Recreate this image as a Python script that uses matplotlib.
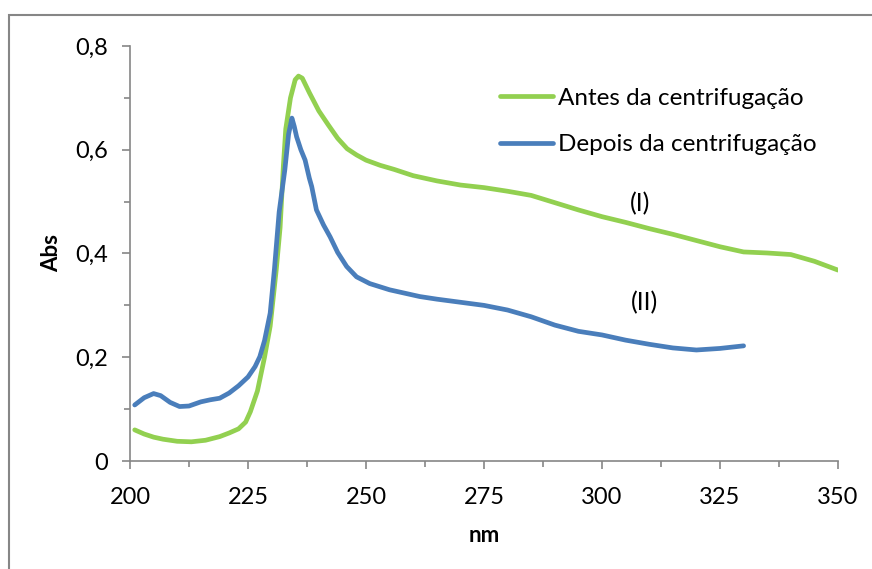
import matplotlib.pyplot as plt
from matplotlib.patches import Rectangle
from matplotlib.ticker import MultipleLocator, FuncFormatter

plt.rcParams['font.family'] = ['Lato', 'DejaVu Sans']

# Antes da centrifugação (I)
nm_antes = [201, 203, 205, 207, 210, 213, 216, 219, 221, 223, 224.5, 225.5, 227,
            228.5, 229.7, 231, 231.8, 232.5, 233, 234, 235, 235.7, 236.5, 238, 240,
            242, 244, 246, 248, 250, 253, 256, 260, 265, 270, 275, 280, 285, 290,
            295, 300, 305, 310, 315, 320, 325, 330, 335, 340, 345, 350]
abs_antes = [0.060, 0.052, 0.046, 0.042, 0.038, 0.037, 0.040, 0.047, 0.054, 0.062,
             0.075, 0.095, 0.135, 0.200, 0.260, 0.370, 0.450, 0.570, 0.640, 0.700,
             0.735, 0.742, 0.738, 0.710, 0.675, 0.648, 0.622, 0.602, 0.590, 0.580,
             0.570, 0.562, 0.550, 0.540, 0.532, 0.527, 0.520, 0.512, 0.498, 0.484,
             0.471, 0.460, 0.448, 0.437, 0.425, 0.413, 0.403, 0.401, 0.398, 0.385,
             0.368]

# Depois da centrifugação (II)
nm_depois = [201, 203, 205, 206.5, 208.5, 210.5, 212.5, 215, 217, 219, 221, 223, 225,
             226.5, 227.5, 228.5, 229.7, 230.6, 231.6, 232.8, 233.6, 234.3, 234.8,
             235.3, 236.2, 237.1, 238, 238.5, 239.5, 241, 242.4, 244, 245.9, 248,
             250.8, 255, 261.4, 265, 270, 275, 280, 285, 290, 295, 300, 305, 310,
             315, 320, 325, 330]
abs_depois = [0.108, 0.122, 0.130, 0.126, 0.113, 0.105, 0.106, 0.114, 0.118, 0.121,
              0.131, 0.145, 0.162, 0.182, 0.201, 0.232, 0.285, 0.370, 0.480, 0.561,
              0.630, 0.661, 0.645, 0.625, 0.600, 0.580, 0.545, 0.529, 0.484, 0.455,
              0.432, 0.402, 0.375, 0.355, 0.342, 0.330, 0.317, 0.312, 0.306, 0.300,
              0.291, 0.278, 0.262, 0.250, 0.243, 0.233, 0.225, 0.218, 0.214, 0.217,
              0.222]

fig = plt.figure(figsize=(8.72, 5.69), dpi=100)
ax = fig.add_axes([130 / 872, 1 - 461 / 569, 708 / 872, 415 / 569])

ax.plot(nm_antes, abs_antes, color='#92D050', lw=3.4, solid_capstyle='round',
        label='Antes da centrifugação')
ax.plot(nm_depois, abs_depois, color='#4A7EBB', lw=3.4, solid_capstyle='round',
        label='Depois da centrifugação')

ax.set_xlim(200, 350)
ax.set_ylim(0, 0.8)
ax.xaxis.set_major_locator(MultipleLocator(25))
ax.xaxis.set_minor_locator(MultipleLocator(12.5))
ax.yaxis.set_major_locator(MultipleLocator(0.2))
ax.yaxis.set_minor_locator(MultipleLocator(0.1))
ax.yaxis.set_major_formatter(FuncFormatter(lambda v, p: ('%g' % round(v, 1)).replace('.', ',')))

for s in ['top', 'right']:
    ax.spines[s].set_visible(False)
for s in ['left', 'bottom']:
    ax.spines[s].set_color('#868686')
    ax.spines[s].set_linewidth(1.2)

ax.tick_params(which='major', direction='out', length=6, width=1.2, color='#868686',
               labelsize=17, pad=10)
ax.tick_params(which='minor', direction='out', length=4, width=1.2, color='#868686')
ax.tick_params(axis='x', which='major', pad=13)

ax.set_xlabel('nm', fontsize=16, fontweight='bold', labelpad=12)
ax.set_ylabel('Abs', fontsize=16, fontweight='bold', labelpad=9)

ax.text(308, 0.497, '(I)', fontsize=18, ha='center', va='center')
ax.text(309, 0.305, '(II)', fontsize=18, ha='center', va='center')

ax.legend(loc='upper left', bbox_to_anchor=(0.5226, 0.899), frameon=False,
          fontsize=17.5, handlelength=2.18, handletextpad=0.22, labelspacing=1.05,
          borderpad=0, borderaxespad=0)

fig.patches.append(Rectangle((9 / 872, -0.02), 1.1, 1 - 15 / 569 + 0.02,
                             transform=fig.transFigure, fill=False,
                             edgecolor='#868686', lw=1.5))

fig.savefig('out.png', dpi=100)
